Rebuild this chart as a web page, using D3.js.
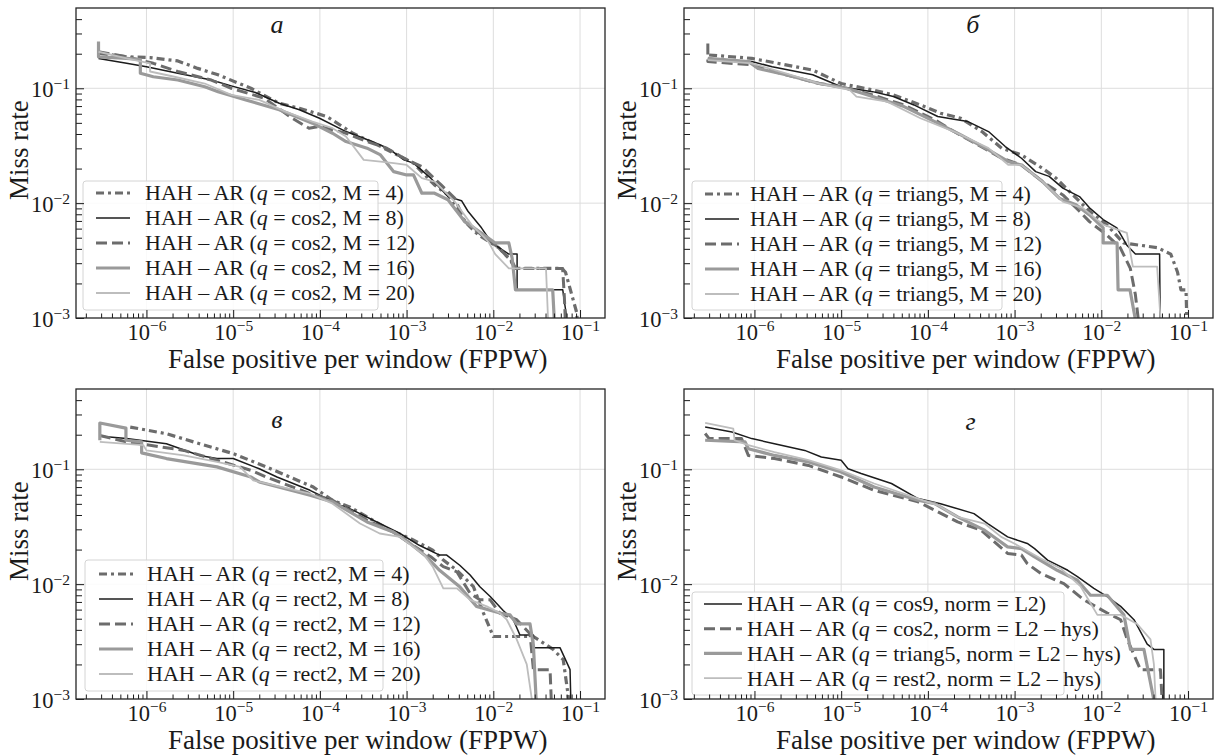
<!DOCTYPE html>
<html>
<head>
<meta charset="utf-8">
<script src="https://cdn.jsdelivr.net/npm/d3@7"></script>
<style>
  body { margin: 0; background: #fff; }
  text { font-family: "Liberation Serif", "Times New Roman", serif; fill: #1a1a1a; }
</style>
</head>
<body>
<div id="chart"></div>
<script>
// ---- data (FPPW, miss rate) ----
var xMajor = [1e-6, 1e-5, 1e-4, 1e-3, 1e-2, 1e-1];
var yMajor = [1e-3, 1e-2, 1e-1];

// panel а : q = cos2
var fppwA4 = [2.9e-7, 5.9e-7, 1.1e-6, 2.3e-6, 3.9e-6, 6.7e-6, 1.6e-5, 3.4e-5, 5.8e-5, 1.2e-4, 2.4e-4, 4.2e-4, 7.8e-4, 1.2e-3, 2.1e-3, 3.0e-3, 4.7e-3, 6.7e-3, 0.0115, 0.0165, 0.018, 0.062, 0.068, 0.092, 0.095];
var missA4 = [0.201, 0.188, 0.185, 0.173, 0.149, 0.131, 0.100, 0.074, 0.067, 0.0568, 0.0406, 0.0333, 0.0263, 0.0223, 0.0144, 0.0118, 0.0069, 0.0053, 0.0041, 0.0031, 0.0027, 0.0027, 0.0025, 0.0011, 0.0005];
var fppwA8 = [2.8e-7, 5.9e-7, 1.0e-6, 2.3e-6, 5.6e-6, 9.5e-6, 1.8e-5, 3.4e-5, 5.8e-5, 9.9e-5, 2.0e-4, 3.2e-4, 5.0e-4, 6.5e-4, 9.3e-4, 1.2e-3, 1.9e-3, 3.0e-3, 4.3e-3, 5.1e-3, 7.3e-3, 9.6e-3, 0.0151, 0.0188, 0.0188, 0.0528, 0.0632, 0.069, 0.07];
var missA8 = [0.182, 0.165, 0.154, 0.135, 0.118, 0.105, 0.092, 0.074, 0.065, 0.0548, 0.042, 0.0367, 0.0321, 0.0291, 0.0238, 0.0223, 0.0165, 0.0114, 0.0105, 0.0085, 0.0061, 0.0045, 0.0036, 0.0036, 0.00176, 0.00176, 0.00176, 0.0011, 0.0005];
var fppwA12 = [2.8e-7, 5.9e-7, 1.2e-6, 2.3e-6, 5.6e-6, 9.5e-6, 2.3e-5, 4.8e-5, 7.5e-5, 9.9e-5, 2.0e-4, 3.5e-4, 5.9e-4, 9.3e-4, 1.5e-3, 2.5e-3, 3.6e-3, 4.7e-3, 7.3e-3, 0.0115, 0.0151, 0.018, 0.063, 0.066, 0.07];
var missA12 = [0.208, 0.188, 0.165, 0.140, 0.118, 0.100, 0.0818, 0.0548, 0.0449, 0.0465, 0.0406, 0.0344, 0.0301, 0.0246, 0.0208, 0.0144, 0.011, 0.0069, 0.0053, 0.0041, 0.0033, 0.0027, 0.0027, 0.0015, 0.0005];
var fppwA16 = [2.8e-7, 2.8e-7, 5.9e-7, 8.5e-7, 8.5e-7, 1.2e-6, 2.3e-6, 4.7e-6, 6.7e-6, 1.4e-5, 3.4e-5, 8.2e-5, 1.4e-4, 2.0e-4, 3.5e-4, 5.0e-4, 7.1e-4, 1.0e-3, 1.2e-3, 1.5e-3, 2.1e-3, 3.0e-3, 4.7e-3, 7.3e-3, 0.0105, 0.0151, 0.0165, 0.018, 0.0484, 0.0528];
var missA16 = [0.255, 0.188, 0.182, 0.178, 0.135, 0.126, 0.118, 0.103, 0.0935, 0.0792, 0.065, 0.0497, 0.0406, 0.0344, 0.0301, 0.0263, 0.0188, 0.0176, 0.0176, 0.0122, 0.0122, 0.0107, 0.0069, 0.0055, 0.0045, 0.0045, 0.0033, 0.00176, 0.00176, 0.0005];
var fppwA20 = [2.8e-7, 5.9e-7, 1.1e-6, 1.1e-6, 2.1e-6, 4.7e-6, 9.5e-6, 2.0e-5, 4.0e-5, 8.2e-5, 1.4e-4, 2.0e-4, 3.2e-4, 5.0e-4, 7.1e-4, 1.0e-3, 1.5e-3, 2.1e-3, 3.6e-3, 5.6e-3, 8.8e-3, 0.0105, 0.0151, 0.0405, 0.0443];
var missA20 = [0.208, 0.182, 0.165, 0.140, 0.126, 0.110, 0.0875, 0.0792, 0.0627, 0.0513, 0.0449, 0.038, 0.0238, 0.0230, 0.0223, 0.0215, 0.0165, 0.0154, 0.0103, 0.0065, 0.0046, 0.0036, 0.0027, 0.0027, 0.0005];

// panel б : q = triang5
var fppwB4 = [3.0e-7, 9.3e-7, 2.3e-6, 4.7e-6, 1.0e-5, 2.3e-5, 4.0e-5, 8.2e-5, 1.4e-4, 2.4e-4, 4.2e-4, 7.1e-4, 1.2e-3, 2.1e-3, 3.0e-3, 4.7e-3, 7.3e-3, 0.0115, 0.018, 0.0443, 0.0632, 0.0757, 0.0828, 0.0948, 0.099];
var missB4 = [0.195, 0.182, 0.160, 0.144, 0.110, 0.0968, 0.0875, 0.0716, 0.0607, 0.0548, 0.042, 0.0301, 0.0263, 0.0201, 0.0165, 0.0118, 0.0085, 0.0065, 0.0045, 0.0041, 0.0036, 0.0025, 0.00176, 0.00176, 0.0005];
var fppwB8 = [2.9e-7, 9.3e-7, 1.6e-6, 4.7e-6, 1.0e-5, 2.3e-5, 4.0e-5, 6.9e-5, 1.3e-4, 2.0e-4, 2.9e-4, 5.0e-4, 7.8e-4, 1.2e-3, 1.75e-3, 2.5e-3, 3.6e-3, 5.6e-3, 7.3e-3, 0.0105, 0.0151, 0.0197, 0.0247, 0.047, 0.048];
var missB8 = [0.182, 0.171, 0.154, 0.131, 0.103, 0.0935, 0.0847, 0.0716, 0.0568, 0.0537, 0.0513, 0.042, 0.0311, 0.0246, 0.0188, 0.0171, 0.0135, 0.0114, 0.0091, 0.0072, 0.0061, 0.0043, 0.0036, 0.0036, 0.0005];
var fppwB12 = [2.9e-7, 2.9e-7, 9.3e-7, 2.3e-6, 5.6e-6, 1.0e-5, 2.3e-5, 5.3e-5, 1.2e-4, 2.0e-4, 3.8e-4, 7.1e-4, 1.2e-3, 2.1e-3, 3.6e-3, 5.6e-3, 7.3e-3, 0.0115, 0.0165, 0.0216, 0.0247, 0.0296];
var missB12 = [0.246, 0.171, 0.160, 0.131, 0.110, 0.103, 0.0875, 0.0716, 0.0531, 0.042, 0.0321, 0.0246, 0.0215, 0.0154, 0.0118, 0.0085, 0.0069, 0.0053, 0.0041, 0.0027, 0.0016, 0.0005];
var fppwB16 = [2.9e-7, 8.5e-7, 1.1e-6, 2.3e-6, 5.6e-6, 1.14e-5, 2.3e-5, 5.3e-5, 1.2e-4, 2.4e-4, 5.0e-4, 8.5e-4, 1.2e-3, 2.1e-3, 3.3e-3, 5.1e-3, 7.3e-3, 0.0105, 0.0105, 0.0152, 0.0156, 0.0214, 0.029];
var missB16 = [0.182, 0.171, 0.149, 0.131, 0.110, 0.100, 0.0847, 0.0693, 0.0513, 0.0393, 0.0291, 0.0230, 0.0215, 0.0154, 0.0110, 0.0097, 0.0079, 0.0061, 0.0045, 0.0045, 0.00176, 0.00176, 0.0005];
var fppwB20 = [2.9e-7, 9.3e-7, 2.3e-6, 5.6e-6, 1.25e-5, 1.5e-5, 3.4e-5, 8.2e-5, 2.0e-4, 5.0e-4, 8.5e-4, 1.2e-3, 2.1e-3, 3.6e-3, 6.1e-3, 0.0105, 0.0197, 0.0231, 0.044, 0.051];
var missB20 = [0.176, 0.165, 0.135, 0.110, 0.0968, 0.0847, 0.0766, 0.0548, 0.042, 0.0301, 0.0215, 0.0215, 0.0154, 0.0103, 0.0091, 0.0065, 0.0055, 0.0028, 0.0028, 0.0005];

// panel в : q = rect2
var fppwC4 = [6.5e-7, 1.7e-6, 4.1e-6, 1.0e-5, 2.4e-5, 8.4e-5, 1.4e-4, 2.2e-4, 3.5e-4, 6.4e-4, 1.1e-3, 2.0e-3, 2.65e-3, 3.8e-3, 5.9e-3, 7.7e-3, 0.010, 0.029, 0.049, 0.064, 0.077];
var missC4 = [0.233, 0.204, 0.167, 0.137, 0.105, 0.070, 0.0537, 0.047, 0.0385, 0.0295, 0.025, 0.0198, 0.0162, 0.0132, 0.0095, 0.0056, 0.0035, 0.0035, 0.0027, 0.0022, 0.0008];
var fppwC8 = [3.0e-7, 5.9e-7, 1.7e-6, 4.1e-6, 6.5e-6, 1.0e-5, 2.0e-5, 3.2e-5, 7.7e-5, 1.0e-4, 1.7e-4, 2.2e-4, 2.9e-4, 4.9e-4, 8.4e-4, 1.4e-3, 2.4e-3, 2.9e-3, 4.1e-3, 5.4e-3, 7.0e-3, 9.2e-3, 0.013, 0.017, 0.0203, 0.029, 0.029, 0.0587, 0.0767, 0.08];
var missC8 = [0.194, 0.185, 0.167, 0.132, 0.124, 0.124, 0.101, 0.0857, 0.0656, 0.0594, 0.0486, 0.0455, 0.0411, 0.0337, 0.0276, 0.0218, 0.0179, 0.0179, 0.0146, 0.012, 0.0095, 0.0078, 0.0059, 0.0049, 0.0036, 0.0036, 0.0028, 0.0028, 0.0018, 0.0005];
var fppwC12 = [2.9e-7, 5.9e-7, 1.1e-6, 2.7e-6, 6.5e-6, 1.6e-5, 2.4e-5, 7.7e-5, 1.4e-4, 3.5e-4, 7.0e-4, 1.1e-3, 1.9e-3, 2.65e-3, 3.8e-3, 5.4e-3, 7.0e-3, 9.2e-3, 0.0119, 0.0186, 0.0265, 0.029, 0.0451, 0.0471];
var missC12 = [0.197, 0.173, 0.162, 0.146, 0.120, 0.098, 0.0857, 0.0615, 0.0537, 0.036, 0.0285, 0.0226, 0.0173, 0.0142, 0.0128, 0.0083, 0.0073, 0.0073, 0.0056, 0.0049, 0.0037, 0.0018, 0.0018, 0.0008];
var fppwC16 = [2.9e-7, 2.9e-7, 5.8e-7, 5.8e-7, 8.8e-7, 8.8e-7, 1.7e-6, 6.5e-6, 1.6e-5, 2.0e-5, 7.7e-5, 1.4e-4, 3.5e-4, 7.0e-4, 1.1e-3, 1.7e-3, 2.4e-3, 4.1e-3, 6.4e-3, 0.0119, 0.0156, 0.0186, 0.0265, 0.029, 0.0316];
var missC16 = [0.179, 0.253, 0.228, 0.179, 0.173, 0.139, 0.124, 0.105, 0.0857, 0.0776, 0.0594, 0.052, 0.0348, 0.0285, 0.0226, 0.0173, 0.0132, 0.0095, 0.0064, 0.0056, 0.0054, 0.0045, 0.0045, 0.0029, 0.0008];
var fppwC20 = [2.9e-7, 9.2e-7, 1.0e-6, 2.7e-6, 6.5e-6, 1.2e-5, 1.7e-5, 7.7e-5, 1.4e-4, 2.9e-4, 4.9e-4, 8.4e-4, 1.6e-3, 2.0e-3, 2.65e-3, 3.8e-3, 5.4e-3, 8.4e-3, 0.0119, 0.0143, 0.0186, 0.0243, 0.029];
var missC20 = [0.173, 0.162, 0.146, 0.132, 0.116, 0.105, 0.080, 0.0615, 0.0502, 0.0337, 0.0276, 0.0258, 0.0179, 0.0142, 0.0092, 0.0092, 0.0073, 0.0064, 0.0056, 0.0049, 0.0033, 0.0020, 0.0008];

// panel г : norms
var fppwD1 = [2.7e-7, 5.5e-7, 9.3e-7, 1.7e-6, 3.8e-6, 5.9e-6, 1.0e-5, 1.2e-5, 1.7e-5, 3.8e-5, 7.7e-5, 1.4e-4, 3.4e-4, 4.9e-4, 8.3e-4, 1.4e-3, 1.7e-3, 2.4e-3, 4.1e-3, 5.3e-3, 8.2e-3, 0.0117, 0.0167, 0.0238, 0.0338, 0.0404, 0.0526, 0.0526];
var missD1 = [0.233, 0.211, 0.185, 0.167, 0.146, 0.128, 0.120, 0.101, 0.0918, 0.0752, 0.0556, 0.0502, 0.0411, 0.0337, 0.0258, 0.0226, 0.0204, 0.0162, 0.0132, 0.0116, 0.0092, 0.0078, 0.0064, 0.0049, 0.0030, 0.0027, 0.0027, 0.0005];
var fppwD2 = [2.7e-7, 3.0e-7, 7.1e-7, 8.5e-7, 1.7e-6, 4.2e-6, 1.0e-5, 2.4e-5, 7.7e-5, 1.2e-4, 2.2e-4, 4.1e-4, 8.3e-4, 1.2e-3, 1.4e-3, 2.0e-3, 3.7e-3, 6.3e-3, 0.0117, 0.0167, 0.0199, 0.0283, 0.0481, 0.0526];
var missD2 = [0.205, 0.185, 0.185, 0.132, 0.124, 0.108, 0.0857, 0.0656, 0.052, 0.044, 0.0348, 0.0295, 0.0185, 0.0179, 0.0151, 0.0124, 0.0101, 0.0073, 0.0056, 0.0049, 0.0033, 0.0018, 0.0018, 0.0005];
var fppwD3 = [2.7e-7, 7.8e-7, 8.5e-7, 1.7e-6, 4.2e-6, 1.0e-5, 2.4e-5, 7.7e-5, 1.2e-4, 2.2e-4, 4.5e-4, 8.3e-4, 1.2e-3, 1.7e-3, 3.1e-3, 5.3e-3, 7.5e-3, 0.0117, 0.0182, 0.0217, 0.031, 0.0481];
var missD3 = [0.179, 0.173, 0.151, 0.132, 0.116, 0.0948, 0.070, 0.0537, 0.0502, 0.0385, 0.0295, 0.0211, 0.0204, 0.0173, 0.0132, 0.0108, 0.008, 0.008, 0.0054, 0.0027, 0.0027, 0.0005];
var fppwD4 = [2.7e-7, 5.7e-7, 5.9e-7, 8.5e-7, 1.7e-6, 4.2e-6, 1.0e-5, 2.4e-5, 7.7e-5, 1.3e-4, 2.2e-4, 4.5e-4, 7.0e-4, 9.9e-4, 2.0e-3, 3.4e-3, 5.8e-3, 9.0e-3, 0.0167, 0.0259, 0.0369, 0.0404, 0.0441];
var missD4 = [0.253, 0.226, 0.179, 0.162, 0.141, 0.120, 0.098, 0.0752, 0.0556, 0.0486, 0.0385, 0.0337, 0.0258, 0.0226, 0.0167, 0.0137, 0.0095, 0.0054, 0.0054, 0.0045, 0.0033, 0.0020, 0.0005];

var labelsA = ["cos2, M = 4", "cos2, M = 8", "cos2, M = 12", "cos2, M = 16", "cos2, M = 20"];
var labelsB = ["triang5, M = 4", "triang5, M = 8", "triang5, M = 12", "triang5, M = 16", "triang5, M = 20"];
var labelsC = ["rect2, M = 4", "rect2, M = 8", "rect2, M = 12", "rect2, M = 16", "rect2, M = 20"];
var labelsD = ["cos9, norm = L2", "cos2, norm = L2 \u2013 hys", "triang5, norm = L2 \u2013 hys", "rest2, norm = L2 \u2013 hys"];

// line styles
var styles = {
  dashdot: {color: "#6c6c6c", width: 3.2, dash: "8,4,3,4"},
  black:   {color: "#1c1c1c", width: 1.5, dash: null},
  dashed:  {color: "#6c6c6c", width: 3.0, dash: "11,5"},
  thick:   {color: "#9a9a9a", width: 3.2, dash: null},
  light:   {color: "#bdbdbd", width: 1.8, dash: null}
};

var W = 529, H = 310;

var panels = [
  {left: 76, top: 8, letter: "\u0430", letterAt: [3.2e-5, 0.30],
   legend: {x: 7, y: 173, w: 295, h: 129, row0: 12, rowStep: 25, h0: 13, h1: 47, tx: 62},
   labels: labelsA, x: [fppwA4, fppwA8, fppwA12, fppwA16, fppwA20], y: [missA4, missA8, missA12, missA16, missA20],
   styles: ["dashdot", "black", "dashed", "thick", "light"]},
  {left: 684, top: 8, letter: "\u0431", letterAt: [3.3e-4, 0.30],
   legend: {x: 8, y: 173, w: 310, h: 129, row0: 13, rowStep: 25, h0: 13, h1: 47, tx: 58},
   labels: labelsB, x: [fppwB4, fppwB8, fppwB12, fppwB16, fppwB20], y: [missB4, missB8, missB12, missB16, missB20],
   styles: ["dashdot", "black", "dashed", "thick", "light"]},
  {left: 76, top: 389, letter: "\u0432", letterAt: [3.2e-5, 0.228],
   legend: {x: 9, y: 171, w: 298, h: 131, row0: 14, rowStep: 25, h0: 14, h1: 48, tx: 62},
   labels: labelsC, x: [fppwC4, fppwC8, fppwC12, fppwC16, fppwC20], y: [missC4, missC8, missC12, missC16, missC20],
   styles: ["dashdot", "black", "dashed", "thick", "light"]},
  {left: 684, top: 389, letter: "\u0433", letterAt: [3.1e-4, 0.218],
   legend: {x: 8, y: 203, w: 372, h: 103, row0: 12, rowStep: 24.7, h0: 12, h1: 50, tx: 55},
   labels: labelsD, x: [fppwD1, fppwD2, fppwD3, fppwD4], y: [missD1, missD2, missD3, missD4],
   styles: ["black", "dashed", "thick", "light"]}
];

var svg = d3.select("#chart").append("svg")
  .attr("width", 1220)
  .attr("height", 756);

svg.append("rect").attr("width", 1220).attr("height", 756).attr("fill", "#fff");

var defs = svg.append("defs");
defs.append("clipPath").attr("id", "plotclip")
  .append("rect").attr("width", W).attr("height", H);

function minorTicks(domain, exps) {
  var out = [];
  exps.forEach(function(e) {
    for (var k = 2; k <= 9; k++) {
      var v = k * Math.pow(10, e);
      if (v > domain[0] && v < domain[1]) out.push(v);
    }
  });
  return out;
}

function powerLabel(sel) {
  sel.each(function(d) {
    var t = d3.select(this);
    var e = Math.round(Math.log10(d));
    t.text(null);
    t.append("tspan").text("10");
    t.append("tspan").attr("dy", -8.5).attr("font-size", 15.5).text("\u2212" + Math.abs(e));
  });
}

panels.forEach(function(p) {
  var g = svg.append("g").attr("transform", "translate(" + p.left + "," + p.top + ")");

  var x = d3.scaleLog().domain([1.54e-7, 0.194]).range([0, W]);
  var y = d3.scaleLog().domain([1e-3, 0.5]).range([H, 0]);

  // grid
  g.append("g").selectAll("line.gx").data(xMajor).enter().append("line")
    .attr("x1", function(d) { return x(d); }).attr("x2", function(d) { return x(d); })
    .attr("y1", 0).attr("y2", H)
    .attr("stroke", "#dddddd").attr("stroke-width", 1);
  g.append("g").selectAll("line.gy").data(yMajor.slice(1)).enter().append("line")
    .attr("y1", function(d) { return y(d); }).attr("y2", function(d) { return y(d); })
    .attr("x1", 0).attr("x2", W)
    .attr("stroke", "#dddddd").attr("stroke-width", 1);

  // curves
  var line = d3.line()
    .x(function(d) { return x(d[0]); })
    .y(function(d) { return y(d[1]); });
  var plot = g.append("g").attr("clip-path", "url(#plotclip)");
  p.x.forEach(function(xs, i) {
    var st = styles[p.styles[i]];
    var pts = xs.map(function(v, j) { return [v, p.y[i][j]]; });
    plot.append("path")
      .attr("d", line(pts))
      .attr("fill", "none")
      .attr("stroke", st.color)
      .attr("stroke-width", st.width)
      .attr("stroke-dasharray", st.dash)
      .attr("stroke-linejoin", "round");
  });

  // panel letter
  g.append("text")
    .attr("x", x(p.letterAt[0])).attr("y", y(p.letterAt[1]))
    .attr("text-anchor", "middle")
    .attr("font-size", 26).attr("font-style", "italic")
    .text(p.letter);

  // legend
  var L = p.legend;
  var lg = g.append("g").attr("transform", "translate(" + L.x + "," + L.y + ")");
  lg.append("rect").attr("width", L.w).attr("height", L.h).attr("rx", 3)
    .attr("fill", "#fff").attr("fill-opacity", 0.85)
    .attr("stroke", "#d4d4d4").attr("stroke-width", 1);
  p.labels.forEach(function(lab, i) {
    var st = styles[p.styles[i]];
    var ry = L.row0 + i * L.rowStep;
    lg.append("line").attr("x1", L.h0).attr("x2", L.h1).attr("y1", ry).attr("y2", ry)
      .attr("stroke", st.color).attr("stroke-width", st.width)
      .attr("stroke-dasharray", st.dash);
    var t = lg.append("text").attr("x", L.tx).attr("y", ry).attr("dy", "0.34em")
      .attr("font-size", 22);
    t.append("tspan").text("HAH \u2013 AR (");
    t.append("tspan").attr("font-style", "italic").text("q");
    t.append("tspan").text(" = " + lab + ")");
  });

  // axes
  var gx = g.append("g").attr("transform", "translate(0," + H + ")")
    .call(d3.axisBottom(x).tickValues(xMajor).tickSize(-8).tickPadding(0));
  gx.attr("font-family", null).attr("font-size", null);
  gx.select(".domain").remove();
  gx.selectAll(".tick line").attr("stroke", "#1a1a1a");
  gx.selectAll(".tick text").attr("y", 21.5).attr("dy", null).attr("font-size", 22.5).attr("fill", "#1a1a1a").call(powerLabel);
  var gxm = g.append("g").attr("transform", "translate(0," + H + ")")
    .call(d3.axisBottom(x).tickValues(minorTicks(x.domain(), [-7, -6, -5, -4, -3, -2, -1])).tickSize(-4.5).tickFormat(""));
  gxm.select(".domain").remove();
  gxm.selectAll(".tick line").attr("stroke", "#1a1a1a");

  var gy = g.append("g")
    .call(d3.axisLeft(y).tickValues(yMajor).tickSize(-8).tickPadding(6));
  gy.attr("font-family", null).attr("font-size", null);
  gy.select(".domain").remove();
  gy.selectAll(".tick line").attr("stroke", "#1a1a1a");
  gy.selectAll(".tick text").attr("dy", "0.38em").attr("font-size", 22.5).attr("fill", "#1a1a1a").call(powerLabel);
  var gym = g.append("g")
    .call(d3.axisLeft(y).tickValues(minorTicks(y.domain(), [-3, -2, -1])).tickSize(-6).tickFormat(""));
  gym.select(".domain").remove();
  gym.selectAll(".tick line").attr("stroke", "#1a1a1a");

  // frame
  g.append("rect").attr("width", W).attr("height", H)
    .attr("fill", "none").attr("stroke", "#262626").attr("stroke-width", 1.3);

  // axis titles
  g.append("text")
    .attr("x", 92).attr("y", H + 50)
    .attr("font-size", 27)
    .text("False positive per window (FPPW)");
  g.append("text")
    .attr("transform", "translate(-48," + 192 + ") rotate(-90)")
    .attr("font-size", 27)
    .text("Miss rate");
});
</script>
</body>
</html>
